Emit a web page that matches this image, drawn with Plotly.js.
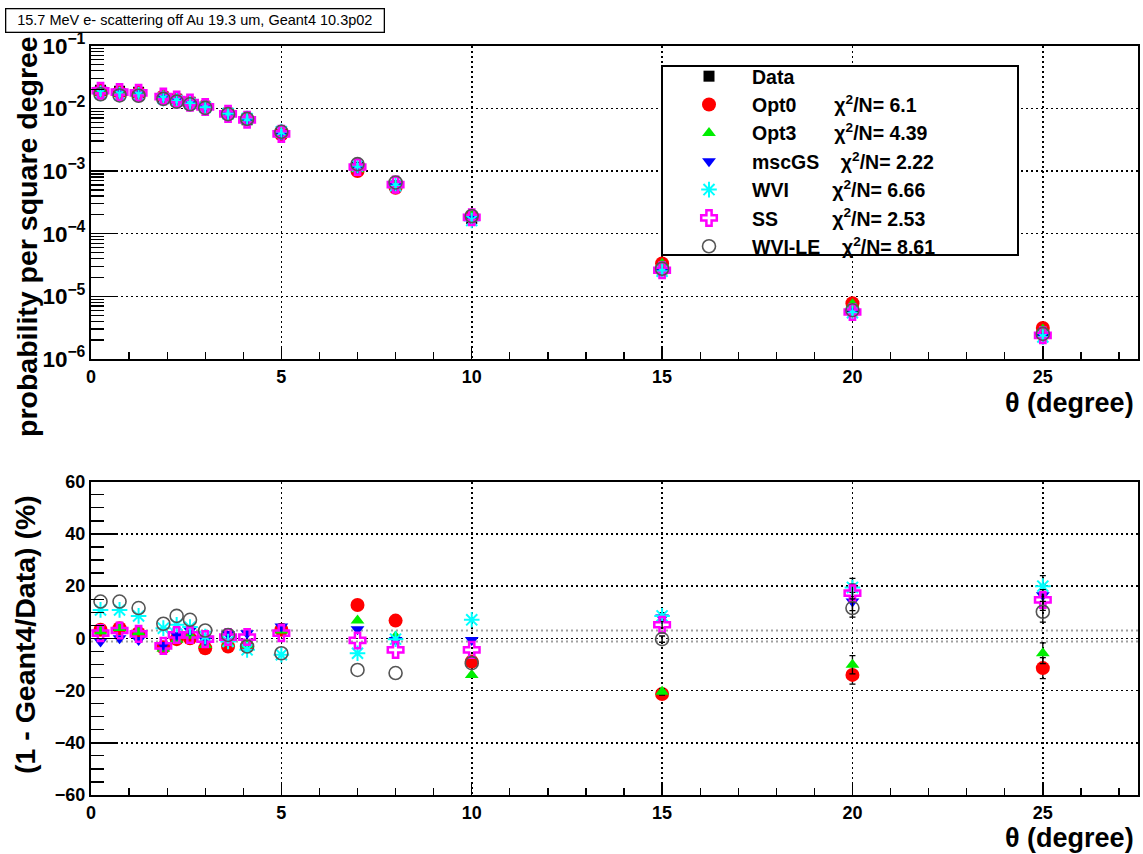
<!DOCTYPE html>
<html>
<head>
<meta charset="utf-8">
<script src="https://cdn.plot.ly/plotly-3.0.1.min.js"></script>
<style>html,body{margin:0;padding:0;background:#fff;}#plot{width:1143px;height:854px;}</style>
</head>
<body>
<div id="plot"></div>
<script>
// ---- data ----
const theta = [0.25, 0.75, 1.25, 1.9, 2.25, 2.6, 3.0, 3.6, 4.1, 5, 7, 8, 10, 15, 20, 25];
const dataProb = [0.0195, 0.0187, 0.0180, 0.0150, 0.0140, 0.0125, 0.0105, 0.0082, 0.0066, 0.0040, 0.00115, 0.00058, 0.000175, 0.0000275, 0.0000068, 0.0000028];
const ratioOpt0  = [3.3, 3.9, 2.0, -3.4, -0.3, 0.0, -3.8, -3.1, -3.1, 3.3, 12.8, 6.8, -8.9, -21.3, -14.0, -11.4];
const ratioOpt3  = [2.6, 4.0, 2.3, -4.0, -0.5, 1.0, -2.5, -1.9, -2.5, 3.0, 6.8, 0.7, -14.0, -20.5, -10.1, -5.7];
const ratioMscGS = [-1.2, 0.0, -0.6, -2.5, 1.3, 3.0, -0.6, 1.7, 2.0, 4.5, 3.5, -0.6, -0.6, 8.0, 14.1, 16.5];
const ratioWVI   = [10.9, 10.9, 8.6, 3.9, 5.2, 4.3, 0.7, -1.2, -4.4, -6.3, -5.7, -0.3, 7.1, 8.6, 19.5, 20.0];
const ratioSS    = [2.0, 3.0, 1.7, -2.9, 1.3, 1.3, -0.3, 0.5, 0.5, 2.0, -0.8, -4.4, -4.4, 5.2, 17.3, 14.7];
const ratioWVILE = [14.1, 14.1, 11.6, 5.6, 8.6, 7.1, 3.0, 1.3, -3.1, -5.7, -12.1, -13.3, -9.5, -0.3, 11.6, 10.2];
// error bars only visible at large angles (hidden under the markers elsewhere)
const ratioErr   = [NaN, NaN, NaN, NaN, NaN, NaN, NaN, NaN, NaN, NaN, NaN, NaN, NaN, 1.2, 3.5, 4.0];
const seriesNames = ["Opt0", "Opt3", "mscGS", "WVI", "SS", "WVI-LE"];
const chi2N = ["6.1", "4.39", "2.22", "6.66", "2.53", "8.61"];
const nameGaps = [7, 7, 4, 8, 10, 4];
const refLines = [3.0, -1.2];
const titleText = "15.7 MeV e- scattering off Au 19.3 um, Geant4 10.3p02";

// ---- styles ----
const FONT = "Liberation Sans, Arial, Helvetica, sans-serif";
const styles = [
  {symbol: "circle", color: "#ff0000", size: 14, line: {width: 0}},
  {symbol: "triangle-up", color: "#00ee00", size: 12, line: {width: 0}},
  {symbol: "triangle-down", color: "#0000ff", size: 12, line: {width: 0}},
  {symbol: "asterisk-open", color: "#00ffff", size: 13, line: {width: 2, color: "#00ffff"}},
  {symbol: "cross-open", color: "#ff00ff", size: 13, line: {width: 2.5, color: "#ff00ff"}},
  {symbol: "circle-open", color: "#555555", size: 13, line: {width: 1.6, color: "#555555"}}
];
const ratios = [ratioOpt0, ratioOpt3, ratioMscGS, ratioWVI, ratioSS, ratioWVILE];

const traces = [];
traces.push({
  x: theta, y: dataProb, type: "scatter", mode: "markers", name: "Data",
  marker: {symbol: "square", color: "#000", size: 11},
  xaxis: "x", yaxis: "y", legendrank: 1
});
ratios.forEach((r, i) => {
  const g4 = dataProb.map((d, k) => d * (1 - r[k] / 100));
  const nm = seriesNames[i] + "\u00A0".repeat(nameGaps[i]) + "\u03C7<sup>2</sup>/N= " + chi2N[i];
  traces.push({
    x: theta, y: g4, type: "scatter", mode: "markers", name: nm,
    marker: styles[i], xaxis: "x", yaxis: "y", legendrank: i + 2
  });
});
ratios.forEach((r, i) => {
  traces.push({
    x: theta, y: r, type: "scatter", mode: "markers", showlegend: false,
    marker: styles[i], xaxis: "x2", yaxis: "y2",
    error_y: {type: "data", array: ratioErr, color: "#000", thickness: 1.3, width: 3}
  });
});

const W = 1143, H = 854;
const px = v => v / W, py = v => 1 - v / H;
const xDom = [px(91), px(1138)];
const gridStyle = {showgrid: true, gridcolor: "#000", gridwidth: 1.6, griddash: "2px,3px"};
const tickFont = {family: FONT, size: 18, color: "#000", weight: "bold"};

const xCommon = Object.assign({
  range: [0, 27.5], dtick: 5, tick0: 0, ticks: "inside", ticklen: 13, tickwidth: 1.5, tickcolor: "#000",
  minor: {dtick: 1, ticks: "inside", ticklen: 7, tickwidth: 1.3, tickcolor: "#000", showgrid: false},
  showline: true, linecolor: "#000", linewidth: 2, mirror: true, zeroline: false,
  tickfont: tickFont, domain: xDom
}, gridStyle);

const layout = {
  width: W, height: H, margin: {l: 0, r: 0, t: 0, b: 0},
  paper_bgcolor: "#fff", plot_bgcolor: "#fff",
  showlegend: true,
  font: {family: FONT, color: "#000"},
  xaxis: Object.assign({}, xCommon, {anchor: "y"}),
  yaxis: Object.assign({
    type: "log", range: [-6, -1], dtick: 1, exponentformat: "power", showexponent: "all",
    ticks: "inside", ticklen: 26, tickwidth: 1.5, tickcolor: "#000",
    minor: {ticks: "inside", ticklen: 13, tickwidth: 1.3, tickcolor: "#000", showgrid: false},
    showline: true, linecolor: "#000", linewidth: 2, mirror: true, zeroline: false,
    tickfont: tickFont, domain: [py(359), py(45.7)], anchor: "x"
  }, gridStyle),
  xaxis2: Object.assign({}, xCommon, {anchor: "y2"}),
  yaxis2: Object.assign({
    range: [-60, 60], dtick: 20, tick0: 0, ticks: "inside", ticklen: 26, tickwidth: 1.5, tickcolor: "#000",
    minor: {dtick: 5, ticks: "inside", ticklen: 13, tickwidth: 1.3, tickcolor: "#000", showgrid: false},
    showline: true, linecolor: "#000", linewidth: 2, mirror: true, zeroline: false,
    tickfont: tickFont, domain: [py(795), py(481.7)], anchor: "x2"
  }, gridStyle),
  legend: {
    x: px(666), y: py(57), xanchor: "left", yanchor: "top",
    bgcolor: "rgba(0,0,0,0)", borderwidth: 0,
    font: {family: FONT, size: 19.5, color: "#000", weight: "bold"},
    itemwidth: 76, traceorder: "normal"
  },
  shapes: [
    {type: "rect", xref: "paper", yref: "paper", x0: px(662), x1: px(1018), y0: py(255), y1: py(66),
     line: {color: "#000", width: 2}, fillcolor: "#fff", layer: "above"}
  ].concat(refLines.map(v => ({
    type: "line", xref: "x2", yref: "y2", x0: 0, x1: 27.5, y0: v, y1: v,
    line: {color: "#a0a0a0", width: 2, dash: "2px,3px"}, layer: "below"
  }))),
  annotations: [
    {text: titleText, xref: "paper", yref: "paper", x: px(5), y: py(8), xanchor: "left", yanchor: "top",
     showarrow: false, font: {family: FONT, size: 14.5, color: "#000"},
     bordercolor: "#000", borderwidth: 1.3, borderpad: 3, bgcolor: "#fff", width: 371, align: "center"},
    {text: "<b>\u03B8 (degree)</b>", xref: "paper", yref: "paper", x: px(1136), y: py(403),
     xanchor: "right", yanchor: "middle", showarrow: false, font: {family: FONT, size: 27, color: "#000"}},
    {text: "<b>\u03B8 (degree)</b>", xref: "paper", yref: "paper", x: px(1136), y: py(838),
     xanchor: "right", yanchor: "middle", showarrow: false, font: {family: FONT, size: 27, color: "#000"}},
    {text: "<b>probability per square degree</b>", xref: "paper", yref: "paper", x: px(27), y: py(237),
     xanchor: "center", yanchor: "middle", textangle: -90, showarrow: false, font: {family: FONT, size: 28.5, color: "#000"}},
    {text: "<b>(1 - Geant4/Data) (%)</b>", xref: "paper", yref: "paper", x: px(25), y: py(635),
     xanchor: "center", yanchor: "middle", textangle: -90, showarrow: false, font: {family: FONT, size: 28.5, color: "#000"}}
  ]
};

Plotly.newPlot("plot", traces, layout, {displayModeBar: false, staticPlot: true});
</script>
</body>
</html>
